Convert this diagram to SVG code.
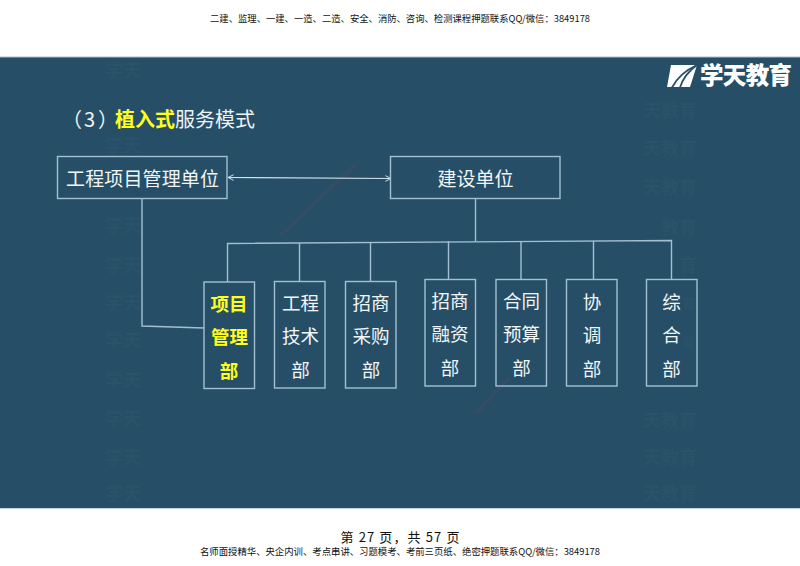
<svg xmlns="http://www.w3.org/2000/svg" width="800" height="566" viewBox="0 0 800 566">
<style>
text{font-family:"Noto Sans CJK SC","Noto Sans",sans-serif}
.box{fill:none;stroke:#a3bfd2;stroke-width:1.400}
.lbl{fill:#f2f6f8;font-size:19px;text-anchor:middle}
.sm{fill:#f2f6f8;font-size:18.500px;text-anchor:middle}
.hi{fill:#ffff1a;font-size:18.500px;font-weight:700;text-anchor:middle}
.line{fill:none;stroke:#a3bfd2;stroke-width:1.400}
.wm{fill:#2a5269;font-size:18px;font-weight:700}
.page{fill:#111;font-size:9.500px}
.red{fill:none;stroke:#6a4a60;stroke-width:4;opacity:.22}
</style>
<defs>
<marker id="open" viewBox="0 0 10 10" refX="9" refY="5" markerWidth="7" markerHeight="7" markerUnits="userSpaceOnUse" orient="auto-start-reverse"><path d="M1 1L9 5L1 9" fill="none" stroke="#d4e2ea" stroke-width="1.400"/></marker>
</defs>
<rect width="800" height="566" fill="#fff"/>
<rect x="0" y="57" width="800" height="451.500" fill="#264f67"/>
<rect x="0" y="56.500" width="800" height="1" fill="#a8bcc8"/>
<rect x="0" y="508" width="800" height="1" fill="#c8d4dc"/>
<text class="page" x="210" y="22" textLength="380" lengthAdjust="spacingAndGlyphs">二建、监理、一建、一造、二造、安全、消防、咨询、检测课程押题联系QQ/微信：3849178</text>
<g id="watermarks">
<text class="wm" x="105" y="77">学天</text>
<text class="wm" x="105" y="152">学天</text>
<text class="wm" x="105" y="232">学天</text>
<text class="wm" x="105" y="272">学天</text>
<text class="wm" x="105" y="309">学天</text>
<text class="wm" x="105" y="347">学天</text>
<text class="wm" x="105" y="387">学天</text>
<text class="wm" x="105" y="425">学天</text>
<text class="wm" x="105" y="464">学天</text>
<text class="wm" x="105" y="500">学天</text>
<text class="wm" x="643" y="117">天教育</text>
<text class="wm" x="643" y="155">天教育</text>
<text class="wm" x="643" y="194">天教育</text>
<text class="wm" x="661" y="234">教育</text>
<text class="wm" x="679" y="272">育</text>
<text class="wm" x="682" y="308" style="font-size:13px">育</text>
<text class="wm" x="682" y="347" style="font-size:13px">育</text>
<text class="wm" x="643" y="427">天教育</text>
<text class="wm" x="643" y="464">天教育</text>
<text class="wm" x="643" y="500">天教育</text>
<path class="red" d="M280 236L356 164"/>
<path class="red" d="M476 413L509 378"/>
</g>
<g id="logo">
<path d="M671 65H697L690 87H667Z" fill="#fff"/>
<path d="M697 65C686 70 677 78 672 87.500" fill="none" stroke="#264f67" stroke-width="1.800"/>
<path d="M697 65C690 70 683 78 680 87.500" fill="none" stroke="#264f67" stroke-width="1.800"/>
<text x="700" y="84" fill="#fff" font-size="23.500" font-weight="900" textLength="92" lengthAdjust="spacing">学天教育</text>
</g>
<g id="title">
<text y="127" font-size="20" fill="#eef3f6" x="62 84 98">（3）</text>
<text x="115" y="127" font-size="20" fill="#ffff1a" font-weight="700">植入式</text>
<text x="175" y="127" font-size="20" fill="#eef3f6">服务模式</text>
</g>
<g id="connectors">
<path class="line" d="M142 198.500V326L204 328"/>
<path class="line" d="M475.500 198.500V241.500"/>
<path class="line" d="M227.500 282V243.500L671.500 240.500V279.500"/>
<path class="line" d="M299.500 243V281.500"/>
<path class="line" d="M370.500 243V281.500"/>
<path class="line" d="M448.500 241V279.500"/>
<path class="line" d="M521 241V279.500"/>
<path class="line" d="M593.500 241V279.500"/>
<path d="M228 177.500L391 178.500" fill="none" stroke="#d4e2ea" stroke-width="1.200" marker-start="url(#open)" marker-end="url(#open)"/>
</g>
<g id="n-pm-unit"><rect class="box" x="57.500" y="156.500" width="169.500" height="42"/><text class="lbl" x="142.500" y="186" textLength="153" lengthAdjust="spacing">工程项目管理单位</text></g>
<g id="n-owner"><rect class="box" x="390.500" y="156.500" width="169.500" height="42"/><text class="lbl" x="475.500" y="186">建设单位</text></g>
<g id="n-pmd"><rect class="box" x="204" y="282" width="50.500" height="106.500"/><text class="hi" x="229" y="311">项目</text><text class="hi" x="229.500" y="344">管理</text><text class="hi" x="229" y="378">部</text></g>
<g id="n-tech"><rect class="box" x="274.500" y="281.500" width="50.500" height="106.500"/><text class="sm" x="300.500" y="310">工程</text><text class="sm" x="300.500" y="343">技术</text><text class="sm" x="300.500" y="377">部</text></g>
<g id="n-purchase"><rect class="box" x="345.500" y="281.500" width="50.500" height="106.500"/><text class="sm" x="371" y="310">招商</text><text class="sm" x="371" y="343">采购</text><text class="sm" x="371" y="377">部</text></g>
<g id="n-finance"><rect class="box" x="425" y="279.500" width="50.500" height="106.500"/><text class="sm" x="450" y="308">招商</text><text class="sm" x="450" y="341">融资</text><text class="sm" x="450" y="375">部</text></g>
<g id="n-contract"><rect class="box" x="496" y="279.500" width="50.500" height="106.500"/><text class="sm" x="521.500" y="308">合同</text><text class="sm" x="521.500" y="341">预算</text><text class="sm" x="521.500" y="375">部</text></g>
<g id="n-coord"><rect class="box" x="566.500" y="279.500" width="50.500" height="106.500"/><text class="sm" x="592" y="309">协</text><text class="sm" x="592" y="342">调</text><text class="sm" x="592" y="376">部</text></g>
<g id="n-general"><rect class="box" x="646.500" y="279.500" width="50.500" height="106.500"/><text class="sm" x="671.500" y="309">综</text><text class="sm" x="671.500" y="342">合</text><text class="sm" x="671.500" y="376">部</text></g>
<text x="400" y="542" fill="#111" font-size="13" text-anchor="middle" textLength="119" lengthAdjust="spacing">第 27 页，共 57 页</text>
<text class="page" x="200" y="555" textLength="400" lengthAdjust="spacingAndGlyphs">名师面授精华、央企内训、考点串讲、习题模考、考前三页纸、绝密押题联系QQ/微信：3849178</text>
</svg>
